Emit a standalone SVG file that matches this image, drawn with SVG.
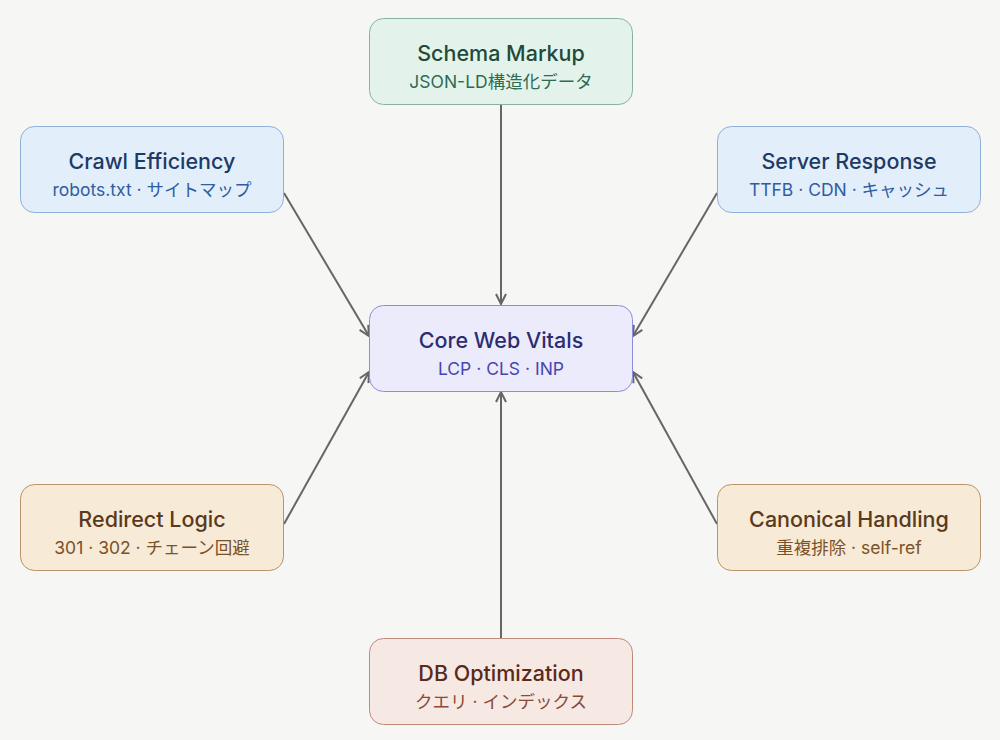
<svg xmlns="http://www.w3.org/2000/svg" width="1000" height="740" viewBox="0 0 1000 740">
<style>
.t{font-family:Inter,"Noto Sans CJK JP",sans-serif;font-size:21.5px;font-weight:500;text-anchor:middle}
.s{font-family:Inter,"Noto Sans CJK JP",sans-serif;font-size:17.5px;text-anchor:middle}
.c{stroke:#666;stroke-width:2;fill:none;marker-end:url(#a)}
</style>
<defs>
<marker id="a" viewBox="0 0 12 12" refX="11" refY="6" markerWidth="12" markerHeight="12" markerUnits="userSpaceOnUse" orient="auto">
<path d="M1,1 L11,6 L1,11" fill="none" stroke="#666" stroke-width="2"/>
</marker>
</defs>
<rect width="1000" height="740" fill="#f6f6f4"/>
<g id="connectors">
<line class="c" x1="501" y1="104" x2="501" y2="304"/>
<line class="c" x1="284" y1="193" x2="369" y2="336"/>
<line class="c" x1="717" y1="193" x2="633" y2="336"/>
<line class="c" x1="284" y1="524" x2="369" y2="372"/>
<line class="c" x1="717" y1="524" x2="633" y2="372"/>
<line class="c" x1="501" y1="638" x2="501" y2="392"/>
</g>
<g id="schema">
<rect x="369.5" y="18.5" width="263" height="86" rx="14" fill="#e3f3ec" stroke="#86b39e"/>
<text class="t" x="501" y="61" fill="#1f4a38">Schema Markup</text>
<text class="s" x="501" y="88" fill="#2e6b50">JSON-LD構造化データ</text>
</g>
<g id="crawl">
<rect x="20.5" y="126.5" width="263" height="86" rx="14" fill="#e3eefb" stroke="#8cb0dc"/>
<text class="t" x="152" y="169" fill="#1e3a66">Crawl Efficiency</text>
<text class="s" x="152" y="196" fill="#2f5da0">robots.txt · サイトマップ</text>
</g>
<g id="server">
<rect x="717.5" y="126.5" width="263" height="86" rx="14" fill="#e3eefb" stroke="#8cb0dc"/>
<text class="t" x="849" y="169" fill="#1e3a66">Server Response</text>
<text class="s" x="849" y="196" fill="#2f5da0">TTFB · CDN · キャッシュ</text>
</g>
<g id="core">
<rect x="369.5" y="305.5" width="263" height="86" rx="14" fill="#ebebfb" stroke="#8c8cdc"/>
<text class="t" x="501" y="348" fill="#2c2c70">Core Web Vitals</text>
<text class="s" x="501" y="375" fill="#4646b0">LCP · CLS · INP</text>
</g>
<g id="redirect">
<rect x="20.5" y="484.5" width="263" height="86" rx="14" fill="#f7ead6" stroke="#b8946a"/>
<text class="t" x="152" y="527" fill="#5a3a1c">Redirect Logic</text>
<text class="s" x="152" y="554" fill="#7a522a">301 · 302 · チェーン回避</text>
</g>
<g id="canonical">
<rect x="717.5" y="484.5" width="263" height="86" rx="14" fill="#f7ead6" stroke="#b8946a"/>
<text class="t" x="849" y="527" fill="#5a3a1c">Canonical Handling</text>
<text class="s" x="849" y="554" fill="#7a522a">重複排除 · self-ref</text>
</g>
<g id="db">
<rect x="369.5" y="638.5" width="263" height="86" rx="14" fill="#f6e8e3" stroke="#c08a7a"/>
<text class="t" x="501" y="681" fill="#5a2a1a">DB Optimization</text>
<text class="s" x="501" y="708" fill="#8a4a36">クエリ · インデックス</text>
</g>
</svg>
